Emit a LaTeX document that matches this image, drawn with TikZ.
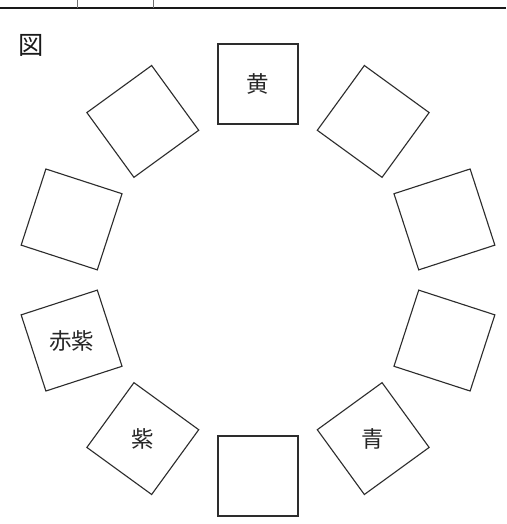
\documentclass[tikz,border=0pt]{standalone}
\usepackage{fontspec}
\usepackage{tikz}
\usetikzlibrary{shapes.geometric}
\newfontfamily\jpfont{Noto Sans CJK JP}
\definecolor{framegray}{RGB}{45, 45, 45}
\definecolor{rulegray}{RGB}{110, 110, 110}

\begin{document}
\begin{tikzpicture}[
    x=0.025cm, y=0.025cm,
    swatch/.style={regular polygon, regular polygon sides=4, draw=framegray,
                   line width=0.8pt, inner sep=0pt, minimum size=2.83cm,
                   font=\jpfont\fontsize{16}{16}\selectfont, text=black!85},
    figlabel/.style={font=\jpfont\fontsize{18}{18}\selectfont, text=black!90},
    headrule/.style={line width=1.6pt, color=black!90},
    colrule/.style={line width=0.6pt, color=rulegray}
  ]
    \useasboundingbox (0,0) rectangle (506,-524);

    % table edge at the top
    \draw[headrule] (0,-8) -- (506,-8);
    \draw[colrule] (77,0) -- (77,-8);
    \draw[colrule] (153,0) -- (153,-8);

    \node[figlabel] (zu) at (31,-45) {図};

    \coordinate (c) at (258,-280);
    \node[swatch, shape border rotate=0]   (yellow)    at ([shift={(90:196)}]c)  {黄};
    \node[swatch, shape border rotate=-36] (ne)        at ([shift={(54:196)}]c)  {};
    \node[swatch, shape border rotate=18]  (eup)       at ([shift={(18:196)}]c)  {};
    \node[swatch, shape border rotate=-18] (edown)     at ([shift={(-18:196)}]c) {};
    \node[swatch, shape border rotate=36]  (blue)      at ([shift={(-54:196)}]c) {青};
    \node[swatch, shape border rotate=0]   (bottom)    at ([shift={(-90:196)}]c) {};
    \node[swatch, shape border rotate=-36] (purple)    at ([shift={(-126:196)}]c) {紫};
    \node[swatch, shape border rotate=18]  (redpurple) at ([shift={(-162:196)}]c) {赤紫};
    \node[swatch, shape border rotate=-18] (wup)       at ([shift={(162:196)}]c) {};
    \node[swatch, shape border rotate=36]  (nw)        at ([shift={(126:196)}]c) {};
  \end{tikzpicture}
\end{document}
